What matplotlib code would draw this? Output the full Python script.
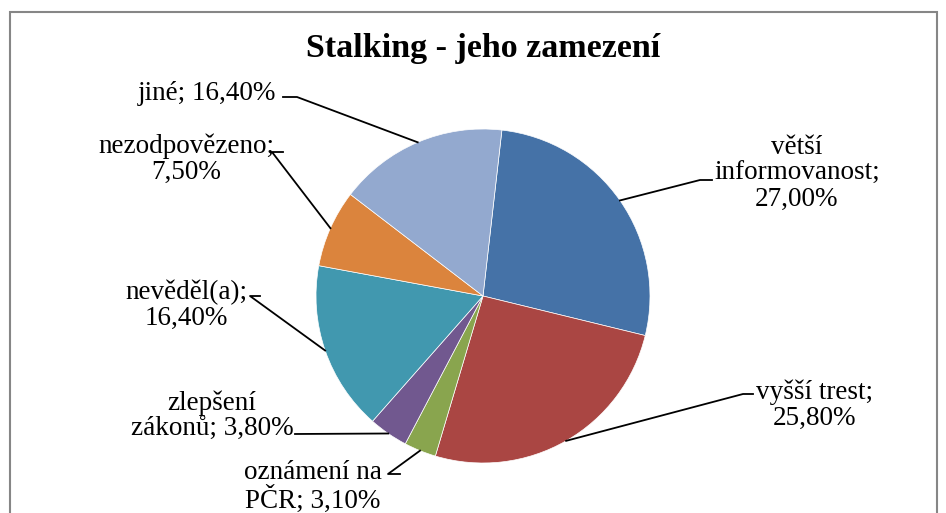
import matplotlib
matplotlib.use("Agg")
import matplotlib.pyplot as plt
import numpy as np
from matplotlib.patches import Rectangle

plt.rcParams['font.family'] = ['Liberation Serif', 'DejaVu Serif']

# data
labels = ['větší\ninformovanost;\n27,00%', 'vyšší trest;\n25,80%', 'oznámení na\nPČR; 3,10%',
          'zlepšení\nzákonů; 3,80%', 'nevěděl(a);\n16,40%', 'nezodpovězeno;\n7,50%', 'jiné; 16,40%']
values = [27.0, 25.8, 3.1, 3.8, 16.4, 7.5, 16.4]
colors = ['#4572A7', '#AA4643', '#89A54E', '#71588F', '#4198AF', '#DB843D', '#93A9CF']

# layout in pixels (top-left origin): label centre, elbow of leader line
W, H = 946, 513
label_pos = [(797, 173), (815, 405), (313, 487), (212, 416), (186, 305), (186, 159), (207, 93)]
elbow = [(712, 180), (753, 394), (400, 474), (295, 434), (260, 296), (283, 152), (283, 97)]
hook = [(700, 180), (743, 394), (388, 474), (295, 434), (250, 296), (272, 152), (297, 97)]

cx, cy, r = 483, 296, 167


def P(x, y):
    return x, H - y


fig = plt.figure(figsize=(W / 100, H / 100), dpi=100)
ax = fig.add_axes([0, 0, 1, 1])
wedges, _ = ax.pie(values, colors=colors, startangle=83.5, counterclock=False,
                   center=P(cx, cy), radius=r,
                   wedgeprops=dict(edgecolor='white', linewidth=0.5))
ax.set_xlim(0, W)
ax.set_ylim(0, H)
ax.set_aspect('equal')
ax.axis('off')

# chart border
ax.add_patch(Rectangle(P(10, 560), 927, 548, fill=False, edgecolor='#868686', linewidth=1.5))

for w, lab, lp, el, hk in zip(wedges, labels, label_pos, elbow, hook):
    mid = np.deg2rad((w.theta1 + w.theta2) / 2)
    ex = cx + r * np.cos(mid)
    ey = cy - r * np.sin(mid)
    xs = [ex, hk[0], el[0]]
    ys = [ey, hk[1], el[1]]
    ax.plot(xs, [H - v for v in ys], color='black', linewidth=1.3)
    ax.text(*P(*lp), lab, ha='center', va='center', fontsize=19.5, linespacing=1.05)

fig.text(483 / W, 1 - 49 / H, 'Stalking - jeho zamezení', ha='center', va='center',
         fontsize=24.5, fontweight='bold')

fig.savefig('out.png', dpi=100)
